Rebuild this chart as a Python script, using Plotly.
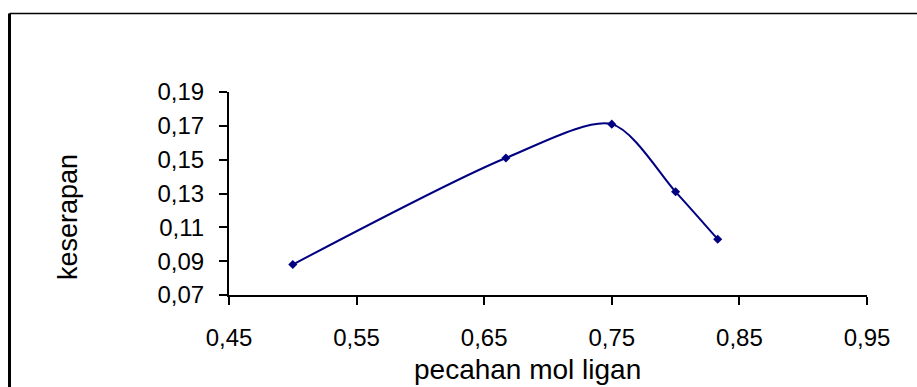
import plotly.graph_objects as go

# Data
mol_fraction = [0.5, 0.667, 0.75, 0.8, 0.833]
absorbance = [0.088, 0.151, 0.171, 0.131, 0.103]
x_ticks = [0.45, 0.55, 0.65, 0.75, 0.85, 0.95]
y_ticks = [0.07, 0.09, 0.11, 0.13, 0.15, 0.17, 0.19]
x_title = "pecahan mol ligan"
y_title = "keserapan"

W, H = 917, 387
L, R, T, B = 229, 50, 92, 92
pw, ph = W - L - R, H - T - B

def px_x(p):
    return (p - L) / pw

def px_y(p):
    return (H - B - p) / ph

navy = "#000080"
font = "Liberation Sans, Arial, sans-serif"

fig = go.Figure()
fig.add_trace(go.Scatter(
    x=mol_fraction, y=absorbance, mode="lines+markers",
    line=dict(color=navy, width=2, shape="spline", smoothing=0.8),
    marker=dict(color=navy, size=7, symbol="diamond"),
    showlegend=False, hoverinfo="skip",
))

axis_common = dict(
    showgrid=False, zeroline=False, showline=True, linecolor="black", linewidth=2,
    ticks="outside", ticklen=8, tickwidth=2, tickcolor="black",
    tickfont=dict(family=font, size=24, color="black"), tickformat=".2f",
)
fig.update_xaxes(range=[0.45, 0.95], tickvals=x_ticks, ticklabelstandoff=12, **axis_common)
fig.update_yaxes(range=[0.07, 0.19], tickvals=y_ticks, ticklabelstandoff=10, **axis_common)

# Chart-area border (top and left edges visible)
bx, by = px_x(9.5), px_y(13.5)
fig.add_shape(type="line", xref="paper", yref="paper", x0=bx, y0=by, x1=1.2, y1=by,
              line=dict(color="black", width=1.5))
fig.add_shape(type="line", xref="paper", yref="paper", x0=bx, y0=by, x1=bx, y1=-0.6,
              line=dict(color="black", width=3))

fig.add_annotation(text=x_title, xref="paper", yref="paper", x=px_x(527), y=px_y(369),
                   showarrow=False, xanchor="center", yanchor="middle",
                   font=dict(family=font, size=28, color="black"))
fig.add_annotation(text=y_title, xref="paper", yref="paper", x=px_x(68), y=px_y(217),
                   showarrow=False, xanchor="center", yanchor="middle", textangle=-90,
                   font=dict(family=font, size=27, color="black"))

fig.update_layout(
    width=W, height=H, margin=dict(l=L, r=R, t=T, b=B, pad=0),
    paper_bgcolor="white", plot_bgcolor="white", separators=",.",
    font=dict(family=font),
)
fig.write_html("out.html", config={"displayModeBar": False})
